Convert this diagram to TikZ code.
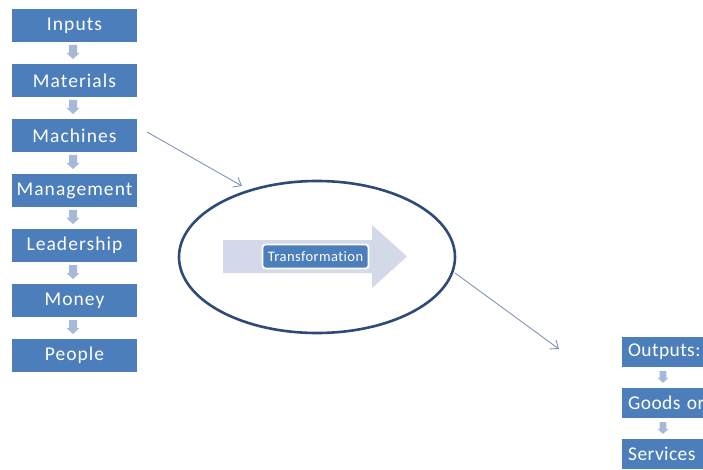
\documentclass[tikz,border=0pt]{standalone}
\usepackage{fontspec}
\newfontfamily\boxfont[LetterSpace=5.5,Ligatures=NoCommon]{Carlito}
\newfontfamily\outfont[LetterSpace=2,Ligatures=NoCommon]{Carlito}
\newfontfamily\tagfont[LetterSpace=3,Ligatures=NoCommon]{Carlito}
\usetikzlibrary{arrows.meta,shapes.geometric}
\definecolor{boxblue}{HTML}{4C7EBC}
\definecolor{smallarr}{HTML}{A7B9D9}
\definecolor{bigarr}{HTML}{D4D9EA}
\definecolor{ringblue}{HTML}{2E4A78}
\definecolor{linkgray}{HTML}{8096B8}
\tikzset{
  stagebox/.style={rectangle, fill=boxblue, text=white, inner sep=0pt,
    minimum width=125pt, minimum height=33pt, font=\boxfont\fontsize{19.5}{20}\selectfont},
  outbox/.style={rectangle, fill=boxblue, text=white, inner xsep=6pt, inner ysep=0pt,
    minimum height=30pt, text width=113pt, align=left, anchor=west,
    font=\outfont\fontsize{19.5}{20}\selectfont},
  tfbox/.style={rectangle, rounded corners=3pt, fill=boxblue, draw=white, line width=1.8pt,
    text=white, minimum width=106pt, minimum height=24pt, inner sep=0pt,
    font=\tagfont\fontsize{14.5}{15}\selectfont},
  ring/.style={ellipse, draw=ringblue, line width=2.6pt, minimum width=276pt, minimum height=152pt},
  link/.style={draw=linkgray, line width=0.9pt, -{Straight Barb[length=7pt,width=11pt,line width=0.9pt]}},
  downarr/.pic={\fill[smallarr] (-4,0) -- (4,0) -- (4,8) -- (6.5,8) -- (0,14) -- (-6.5,8) -- (-4,8) -- cycle;}
}
\begin{document}
\begin{tikzpicture}[x=1pt, y=-1pt]
\clip (0,0) rectangle (703,470);
\fill[white] (0,0) rectangle (703,470);

% input column
\node[stagebox] (inputs)     at (74.5, 25.5) {Inputs};
\node[stagebox] (materials)  at (74.5, 80.5) {Materials};
\node[stagebox] (machines)   at (74.5,135.5) {Machines};
\node[stagebox] (management) at (74.5,190.5) {Management};
\node[stagebox] (leadership) at (74.5,245.5) {Leadership};
\node[stagebox] (money)      at (74.5,300.5) {Money};
\node[stagebox] (people)     at (74.5,355.5) {People};
\foreach \y in {45,100,155,210,265,320}
  \pic at (73,\y) {downarr};

% transformation stage
\node[ring] (ring) at (317,257) {};
\fill[bigarr] (223,240) -- (372,240) -- (372,225) -- (407,256.5) -- (372,288) -- (372,273) -- (223,273) -- cycle;
\node[tfbox] (transform) at (315.5,256.5) {Transformation};

% output column
\node[outbox] (outputs)  at (622,352) {Outputs:};
\node[outbox] (goods)    at (622,403) {Goods or};
\node[outbox] (services) at (622,454) {Services};
\foreach \y in {371,422}
  \pic[scale=0.85] at (663,\y) {downarr};

% connectors
\coordinate (inStart) at (147,132);
\coordinate (inEnd) at (242,186);
\coordinate (outStart) at (455,273);
\coordinate (outEnd) at (559,349);
\draw[link] (inStart) -- (inEnd);
\draw[link] (outStart) -- (outEnd);
\end{tikzpicture}
\end{document}
